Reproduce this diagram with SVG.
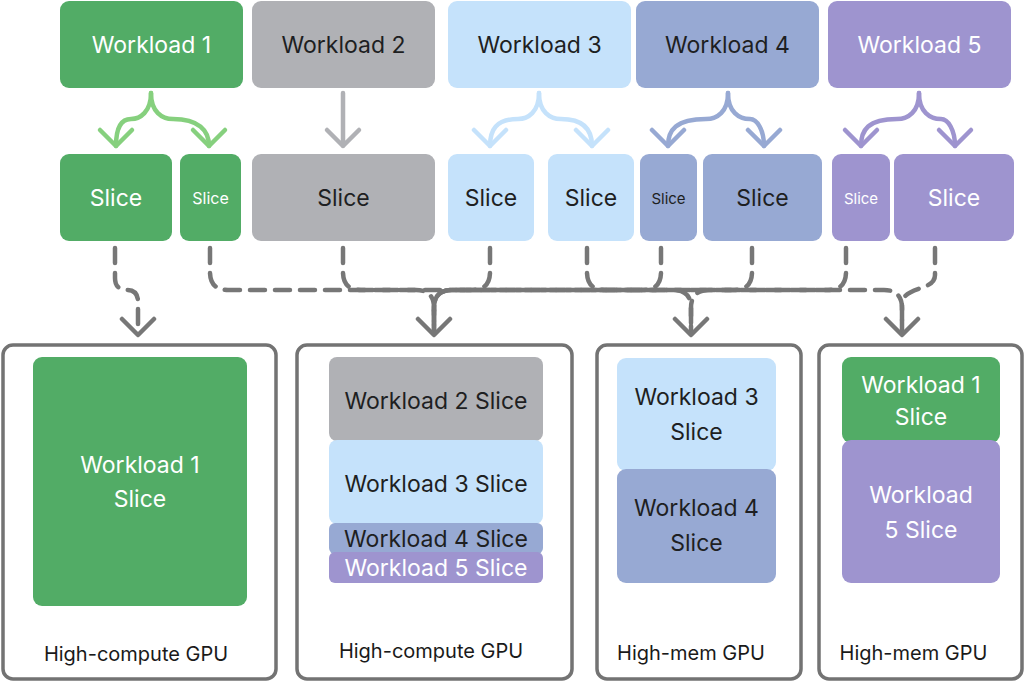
<svg xmlns="http://www.w3.org/2000/svg" width="1024" height="681" viewBox="0 0 1024 681">
<style>
text{font-family:Inter,"Noto Sans","Liberation Sans",sans-serif;text-anchor:middle}
.t{font-size:23px}
.s{font-size:23px}
.ss{font-size:15px}
.lab{font-size:20px;fill:#1a1a1a}
.dk{fill:#1e1f22}
.wt{fill:#ffffff}
.g{fill:#52ac66}
.gr{fill:#b0b1b5}
.lb{fill:#c5e2fb}
.bl{fill:#97a9d3}
.pu{fill:#9e94cf}
.cont{fill:#ffffff;stroke:#737373;stroke-width:3.5}
.arr{fill:none;stroke-width:4.5;stroke-linecap:round;stroke-linejoin:round}
.dash{fill:none;stroke:#777777;stroke-width:4.5;stroke-dasharray:15 10;stroke-linecap:round}
.head{fill:none;stroke:#777777;stroke-width:4.5;stroke-linecap:round;stroke-linejoin:round}
</style>
<g id="workload1"><rect class="g" x="60" y="1" width="183" height="87" rx="9"/><text class="t wt" x="151.5" y="53">Workload 1</text></g>
<g id="workload2"><rect class="gr" x="252" y="1" width="183" height="87" rx="9"/><text class="t dk" x="343.5" y="53">Workload 2</text></g>
<g id="workload3"><rect class="lb" x="448" y="1" width="183" height="87" rx="9"/><text class="t dk" x="539.5" y="53">Workload 3</text></g>
<g id="workload4"><rect class="bl" x="636" y="1" width="183" height="87" rx="9"/><text class="t dk" x="727.5" y="53">Workload 4</text></g>
<g id="workload5"><rect class="pu" x="828" y="1" width="183" height="87" rx="9"/><text class="t wt" x="919.5" y="53">Workload 5</text></g>

<g id="w1-slice-a"><rect class="g" x="60" y="154" width="112" height="87" rx="9"/><text class="s wt" x="116" y="206">Slice</text></g>
<g id="w1-slice-b"><rect class="g" x="180" y="154" width="61" height="87" rx="9"/><text class="wt" style="font-size:16px" x="210.5" y="204">Slice</text></g>
<g id="w2-slice"><rect class="gr" x="252" y="154" width="183" height="87" rx="9"/><text class="s dk" x="343.5" y="206">Slice</text></g>
<g id="w3-slice-a"><rect class="lb" x="448" y="154" width="86" height="87" rx="9"/><text class="s dk" x="491" y="206">Slice</text></g>
<g id="w3-slice-b"><rect class="lb" x="548" y="154" width="86" height="87" rx="9"/><text class="s dk" x="591" y="206">Slice</text></g>
<g id="w4-slice-a"><rect class="bl" x="640" y="154" width="57" height="87" rx="9"/><text class="ss dk" x="668.5" y="204">Slice</text></g>
<g id="w4-slice-b"><rect class="bl" x="703" y="154" width="119" height="87" rx="9"/><text class="s dk" x="762.5" y="206">Slice</text></g>
<g id="w5-slice-a"><rect class="pu" x="832" y="154" width="58" height="87" rx="9"/><text class="ss wt" x="861" y="204">Slice</text></g>
<g id="w5-slice-b"><rect class="pu" x="894" y="154" width="120" height="87" rx="9"/><text class="s wt" x="954" y="206">Slice</text></g>

<g id="gpu1">
<rect class="cont" x="3" y="345" width="273" height="334" rx="10"/>
<rect class="g" x="33" y="357" width="214" height="249" rx="9"/>
<text class="s wt" x="140" y="473">Workload 1</text><text class="s wt" x="140" y="507">Slice</text>
<text class="lab" x="136" y="661">High-compute GPU</text>
</g>
<g id="gpu2">
<rect class="cont" x="297" y="345" width="275" height="334" rx="10"/>
<rect class="gr" x="329" y="357" width="214" height="84" rx="8"/>
<rect class="lb" x="329" y="440" width="214" height="84" rx="8"/>
<rect class="bl" x="329" y="523" width="214" height="31" rx="6"/>
<rect class="pu" x="329" y="552" width="214" height="31" rx="6"/>
<text class="s dk" x="436" y="409">Workload 2 Slice</text>
<text class="s dk" x="436" y="492">Workload 3 Slice</text>
<text class="s dk" x="436" y="547">Workload 4 Slice</text>
<text class="s wt" x="436" y="576">Workload 5 Slice</text>
<text class="lab" x="431" y="658">High-compute GPU</text>
</g>
<g id="gpu3">
<rect class="cont" x="597" y="345" width="204" height="334" rx="10"/>
<rect class="lb" x="617" y="358" width="159" height="113" rx="9"/>
<rect class="bl" x="617" y="469" width="159" height="114" rx="9"/>
<text class="s dk" x="696.5" y="405">Workload 3</text><text class="s dk" x="696.5" y="440">Slice</text>
<text class="s dk" x="696.5" y="516">Workload 4</text><text class="s dk" x="696.5" y="551">Slice</text>
<text class="lab" x="691" y="660">High-mem GPU</text>
</g>
<g id="gpu4">
<rect class="cont" x="819" y="345" width="203" height="334" rx="10"/>
<rect class="g" x="842" y="357" width="158" height="86" rx="9"/>
<rect class="pu" x="842" y="440" width="158" height="143" rx="9"/>
<text class="s wt" x="921" y="393">Workload 1</text><text class="s wt" x="921" y="425">Slice</text>
<text class="s wt" x="921" y="503">Workload</text><text class="s wt" x="921" y="538">5 Slice</text>
<text class="lab" x="913.5" y="660">High-mem GPU</text>
</g>

<g id="connectors">
<g stroke="#86d07e" class="arr">
<path d="M151,93 C151,112 140,119 131,119 C120,119 116,130 116,146"/>
<path d="M151,93 C151,112 162,119 173,119 C198,119 209,130 209,146"/>
<path d="M100,130 L116,146 L132,130 M193,130 L209,146 L225,130"/>
</g>
<g stroke="#b0b1b5" class="arr">
<path d="M343,93 V146 M327,130 L343,146 L359,130"/>
</g>
<g stroke="#c5e2fb" class="arr">
<path d="M539,93 C539,112 528,119 518,119 C496,119 490,130 490,146"/>
<path d="M539,93 C539,112 550,119 561,119 C584,119 592,130 592,146"/>
<path d="M474,130 L490,146 L506,130 M576,130 L592,146 L608,130"/>
</g>
<g stroke="#97a9d3" class="arr">
<path d="M728,93 C728,112 717,119 706,119 C676,119 668,130 668,146"/>
<path d="M728,93 C728,112 739,119 750,119 C757,119 764,130 764,146"/>
<path d="M652,130 L668,146 L684,130 M748,130 L764,146 L780,130"/>
</g>
<g stroke="#9e94cf" class="arr">
<path d="M919,93 C919,112 908,119 897,119 C868,119 861,130 861,146"/>
<path d="M919,93 C919,112 930,119 941,119 C948,119 955,130 955,146"/>
<path d="M845,130 L861,146 L877,130 M939,130 L955,146 L971,130"/>
</g>
<path class="dash" d="M115,248 V278 Q115,290 127,290 Q138,290 138,302 V333"/>
<path class="dash" d="M210,248 V272 Q210,290 228,290 H884 Q902,290 902,308 V333"/>
<path class="dash" d="M343,248 V272 Q343,290 361,290 H416 Q434,290 434,308 V333"/>
<path class="dash" d="M490,248 V272 Q490,290 472,290 H452 Q434,290 434,308 V333"/>
<path class="dash" d="M587,248 V272 Q587,290 605,290 H673 Q691,290 691,308 V333"/>
<path class="dash" d="M661,248 V272 Q661,290 643,290 H452 Q434,290 434,308 V333"/>
<path class="dash" d="M752,248 V272 Q752,290 734,290 H709 Q691,290 691,308 V333"/>
<path class="dash" d="M846,248 V272 Q846,290 828,290 H452 Q434,290 434,308 V333"/>
<path class="dash" d="M935,248 V275 C935,292 902,285 902,305 V333"/>
<path class="head" d="M122,319 L138,335 L154,319 M418,319 L434,335 L450,319 M675,319 L691,335 L707,319 M886,319 L902,335 L918,319"/>
</g>
</svg>
